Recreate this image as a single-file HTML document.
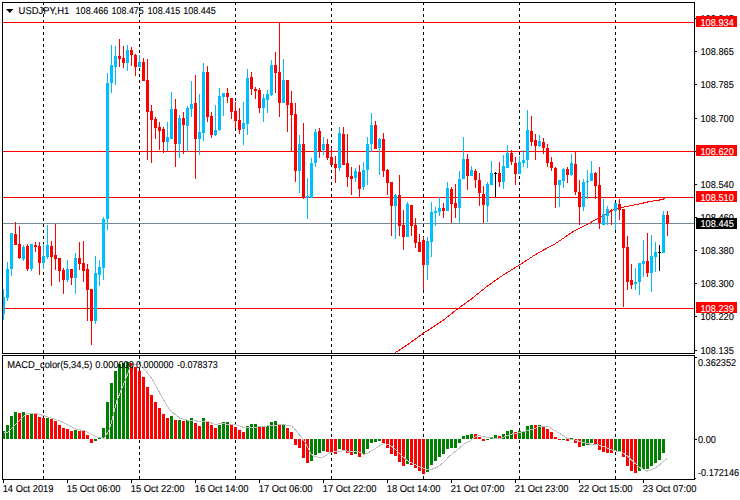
<!DOCTYPE html>
<html><head><meta charset="utf-8"><style>
html,body{margin:0;padding:0;background:#fff;width:740px;height:500px;overflow:hidden}
svg{display:block}
text{font-family:"Liberation Sans",sans-serif;font-size:10px;text-rendering:geometricPrecision;stroke:currentColor;stroke-width:0.12px}
</style></head><body>
<svg width="740" height="500" viewBox="0 0 740 500">
<defs>
<clipPath id="cm"><rect x="3" y="3" width="691" height="350"/></clipPath>
<clipPath id="cd"><rect x="3" y="356" width="691" height="123"/></clipPath>
</defs>
<rect width="740" height="500" fill="#fff"/>
<g shape-rendering="crispEdges">
<g fill="#000"><rect x="43" y="3" width="1" height="2"/><rect x="43" y="8" width="1" height="3"/><rect x="43" y="14" width="1" height="3"/><rect x="43" y="20" width="1" height="3"/><rect x="43" y="26" width="1" height="3"/><rect x="43" y="32" width="1" height="3"/><rect x="43" y="38" width="1" height="3"/><rect x="43" y="44" width="1" height="3"/><rect x="43" y="50" width="1" height="3"/><rect x="43" y="56" width="1" height="3"/><rect x="43" y="62" width="1" height="3"/><rect x="43" y="68" width="1" height="3"/><rect x="43" y="74" width="1" height="3"/><rect x="43" y="80" width="1" height="3"/><rect x="43" y="86" width="1" height="3"/><rect x="43" y="92" width="1" height="3"/><rect x="43" y="98" width="1" height="3"/><rect x="43" y="104" width="1" height="3"/><rect x="43" y="110" width="1" height="3"/><rect x="43" y="116" width="1" height="3"/><rect x="43" y="122" width="1" height="3"/><rect x="43" y="128" width="1" height="3"/><rect x="43" y="134" width="1" height="3"/><rect x="43" y="140" width="1" height="3"/><rect x="43" y="146" width="1" height="3"/><rect x="43" y="152" width="1" height="3"/><rect x="43" y="158" width="1" height="3"/><rect x="43" y="164" width="1" height="3"/><rect x="43" y="170" width="1" height="3"/><rect x="43" y="176" width="1" height="3"/><rect x="43" y="182" width="1" height="3"/><rect x="43" y="188" width="1" height="3"/><rect x="43" y="194" width="1" height="3"/><rect x="43" y="200" width="1" height="3"/><rect x="43" y="206" width="1" height="3"/><rect x="43" y="212" width="1" height="3"/><rect x="43" y="218" width="1" height="3"/><rect x="43" y="224" width="1" height="3"/><rect x="43" y="230" width="1" height="3"/><rect x="43" y="236" width="1" height="3"/><rect x="43" y="242" width="1" height="3"/><rect x="43" y="248" width="1" height="3"/><rect x="43" y="254" width="1" height="3"/><rect x="43" y="260" width="1" height="3"/><rect x="43" y="266" width="1" height="3"/><rect x="43" y="272" width="1" height="3"/><rect x="43" y="278" width="1" height="3"/><rect x="43" y="284" width="1" height="3"/><rect x="43" y="290" width="1" height="3"/><rect x="43" y="296" width="1" height="3"/><rect x="43" y="302" width="1" height="3"/><rect x="43" y="308" width="1" height="3"/><rect x="43" y="314" width="1" height="3"/><rect x="43" y="320" width="1" height="3"/><rect x="43" y="326" width="1" height="3"/><rect x="43" y="332" width="1" height="3"/><rect x="43" y="338" width="1" height="3"/><rect x="43" y="344" width="1" height="3"/><rect x="43" y="350" width="1" height="3"/><rect x="43" y="356" width="1" height="3"/><rect x="43" y="362" width="1" height="3"/><rect x="43" y="368" width="1" height="3"/><rect x="43" y="374" width="1" height="3"/><rect x="43" y="380" width="1" height="3"/><rect x="43" y="386" width="1" height="3"/><rect x="43" y="392" width="1" height="3"/><rect x="43" y="398" width="1" height="3"/><rect x="43" y="404" width="1" height="3"/><rect x="43" y="410" width="1" height="3"/><rect x="43" y="416" width="1" height="3"/><rect x="43" y="422" width="1" height="3"/><rect x="43" y="428" width="1" height="3"/><rect x="43" y="434" width="1" height="3"/><rect x="43" y="440" width="1" height="3"/><rect x="43" y="446" width="1" height="3"/><rect x="43" y="452" width="1" height="3"/><rect x="43" y="458" width="1" height="3"/><rect x="43" y="464" width="1" height="3"/><rect x="43" y="470" width="1" height="3"/><rect x="43" y="476" width="1" height="3"/><rect x="139" y="3" width="1" height="2"/><rect x="139" y="8" width="1" height="3"/><rect x="139" y="14" width="1" height="3"/><rect x="139" y="20" width="1" height="3"/><rect x="139" y="26" width="1" height="3"/><rect x="139" y="32" width="1" height="3"/><rect x="139" y="38" width="1" height="3"/><rect x="139" y="44" width="1" height="3"/><rect x="139" y="50" width="1" height="3"/><rect x="139" y="56" width="1" height="3"/><rect x="139" y="62" width="1" height="3"/><rect x="139" y="68" width="1" height="3"/><rect x="139" y="74" width="1" height="3"/><rect x="139" y="80" width="1" height="3"/><rect x="139" y="86" width="1" height="3"/><rect x="139" y="92" width="1" height="3"/><rect x="139" y="98" width="1" height="3"/><rect x="139" y="104" width="1" height="3"/><rect x="139" y="110" width="1" height="3"/><rect x="139" y="116" width="1" height="3"/><rect x="139" y="122" width="1" height="3"/><rect x="139" y="128" width="1" height="3"/><rect x="139" y="134" width="1" height="3"/><rect x="139" y="140" width="1" height="3"/><rect x="139" y="146" width="1" height="3"/><rect x="139" y="152" width="1" height="3"/><rect x="139" y="158" width="1" height="3"/><rect x="139" y="164" width="1" height="3"/><rect x="139" y="170" width="1" height="3"/><rect x="139" y="176" width="1" height="3"/><rect x="139" y="182" width="1" height="3"/><rect x="139" y="188" width="1" height="3"/><rect x="139" y="194" width="1" height="3"/><rect x="139" y="200" width="1" height="3"/><rect x="139" y="206" width="1" height="3"/><rect x="139" y="212" width="1" height="3"/><rect x="139" y="218" width="1" height="3"/><rect x="139" y="224" width="1" height="3"/><rect x="139" y="230" width="1" height="3"/><rect x="139" y="236" width="1" height="3"/><rect x="139" y="242" width="1" height="3"/><rect x="139" y="248" width="1" height="3"/><rect x="139" y="254" width="1" height="3"/><rect x="139" y="260" width="1" height="3"/><rect x="139" y="266" width="1" height="3"/><rect x="139" y="272" width="1" height="3"/><rect x="139" y="278" width="1" height="3"/><rect x="139" y="284" width="1" height="3"/><rect x="139" y="290" width="1" height="3"/><rect x="139" y="296" width="1" height="3"/><rect x="139" y="302" width="1" height="3"/><rect x="139" y="308" width="1" height="3"/><rect x="139" y="314" width="1" height="3"/><rect x="139" y="320" width="1" height="3"/><rect x="139" y="326" width="1" height="3"/><rect x="139" y="332" width="1" height="3"/><rect x="139" y="338" width="1" height="3"/><rect x="139" y="344" width="1" height="3"/><rect x="139" y="350" width="1" height="3"/><rect x="139" y="356" width="1" height="3"/><rect x="139" y="362" width="1" height="3"/><rect x="139" y="368" width="1" height="3"/><rect x="139" y="374" width="1" height="3"/><rect x="139" y="380" width="1" height="3"/><rect x="139" y="386" width="1" height="3"/><rect x="139" y="392" width="1" height="3"/><rect x="139" y="398" width="1" height="3"/><rect x="139" y="404" width="1" height="3"/><rect x="139" y="410" width="1" height="3"/><rect x="139" y="416" width="1" height="3"/><rect x="139" y="422" width="1" height="3"/><rect x="139" y="428" width="1" height="3"/><rect x="139" y="434" width="1" height="3"/><rect x="139" y="440" width="1" height="3"/><rect x="139" y="446" width="1" height="3"/><rect x="139" y="452" width="1" height="3"/><rect x="139" y="458" width="1" height="3"/><rect x="139" y="464" width="1" height="3"/><rect x="139" y="470" width="1" height="3"/><rect x="139" y="476" width="1" height="3"/><rect x="235" y="3" width="1" height="2"/><rect x="235" y="8" width="1" height="3"/><rect x="235" y="14" width="1" height="3"/><rect x="235" y="20" width="1" height="3"/><rect x="235" y="26" width="1" height="3"/><rect x="235" y="32" width="1" height="3"/><rect x="235" y="38" width="1" height="3"/><rect x="235" y="44" width="1" height="3"/><rect x="235" y="50" width="1" height="3"/><rect x="235" y="56" width="1" height="3"/><rect x="235" y="62" width="1" height="3"/><rect x="235" y="68" width="1" height="3"/><rect x="235" y="74" width="1" height="3"/><rect x="235" y="80" width="1" height="3"/><rect x="235" y="86" width="1" height="3"/><rect x="235" y="92" width="1" height="3"/><rect x="235" y="98" width="1" height="3"/><rect x="235" y="104" width="1" height="3"/><rect x="235" y="110" width="1" height="3"/><rect x="235" y="116" width="1" height="3"/><rect x="235" y="122" width="1" height="3"/><rect x="235" y="128" width="1" height="3"/><rect x="235" y="134" width="1" height="3"/><rect x="235" y="140" width="1" height="3"/><rect x="235" y="146" width="1" height="3"/><rect x="235" y="152" width="1" height="3"/><rect x="235" y="158" width="1" height="3"/><rect x="235" y="164" width="1" height="3"/><rect x="235" y="170" width="1" height="3"/><rect x="235" y="176" width="1" height="3"/><rect x="235" y="182" width="1" height="3"/><rect x="235" y="188" width="1" height="3"/><rect x="235" y="194" width="1" height="3"/><rect x="235" y="200" width="1" height="3"/><rect x="235" y="206" width="1" height="3"/><rect x="235" y="212" width="1" height="3"/><rect x="235" y="218" width="1" height="3"/><rect x="235" y="224" width="1" height="3"/><rect x="235" y="230" width="1" height="3"/><rect x="235" y="236" width="1" height="3"/><rect x="235" y="242" width="1" height="3"/><rect x="235" y="248" width="1" height="3"/><rect x="235" y="254" width="1" height="3"/><rect x="235" y="260" width="1" height="3"/><rect x="235" y="266" width="1" height="3"/><rect x="235" y="272" width="1" height="3"/><rect x="235" y="278" width="1" height="3"/><rect x="235" y="284" width="1" height="3"/><rect x="235" y="290" width="1" height="3"/><rect x="235" y="296" width="1" height="3"/><rect x="235" y="302" width="1" height="3"/><rect x="235" y="308" width="1" height="3"/><rect x="235" y="314" width="1" height="3"/><rect x="235" y="320" width="1" height="3"/><rect x="235" y="326" width="1" height="3"/><rect x="235" y="332" width="1" height="3"/><rect x="235" y="338" width="1" height="3"/><rect x="235" y="344" width="1" height="3"/><rect x="235" y="350" width="1" height="3"/><rect x="235" y="356" width="1" height="3"/><rect x="235" y="362" width="1" height="3"/><rect x="235" y="368" width="1" height="3"/><rect x="235" y="374" width="1" height="3"/><rect x="235" y="380" width="1" height="3"/><rect x="235" y="386" width="1" height="3"/><rect x="235" y="392" width="1" height="3"/><rect x="235" y="398" width="1" height="3"/><rect x="235" y="404" width="1" height="3"/><rect x="235" y="410" width="1" height="3"/><rect x="235" y="416" width="1" height="3"/><rect x="235" y="422" width="1" height="3"/><rect x="235" y="428" width="1" height="3"/><rect x="235" y="434" width="1" height="3"/><rect x="235" y="440" width="1" height="3"/><rect x="235" y="446" width="1" height="3"/><rect x="235" y="452" width="1" height="3"/><rect x="235" y="458" width="1" height="3"/><rect x="235" y="464" width="1" height="3"/><rect x="235" y="470" width="1" height="3"/><rect x="235" y="476" width="1" height="3"/><rect x="331" y="3" width="1" height="2"/><rect x="331" y="8" width="1" height="3"/><rect x="331" y="14" width="1" height="3"/><rect x="331" y="20" width="1" height="3"/><rect x="331" y="26" width="1" height="3"/><rect x="331" y="32" width="1" height="3"/><rect x="331" y="38" width="1" height="3"/><rect x="331" y="44" width="1" height="3"/><rect x="331" y="50" width="1" height="3"/><rect x="331" y="56" width="1" height="3"/><rect x="331" y="62" width="1" height="3"/><rect x="331" y="68" width="1" height="3"/><rect x="331" y="74" width="1" height="3"/><rect x="331" y="80" width="1" height="3"/><rect x="331" y="86" width="1" height="3"/><rect x="331" y="92" width="1" height="3"/><rect x="331" y="98" width="1" height="3"/><rect x="331" y="104" width="1" height="3"/><rect x="331" y="110" width="1" height="3"/><rect x="331" y="116" width="1" height="3"/><rect x="331" y="122" width="1" height="3"/><rect x="331" y="128" width="1" height="3"/><rect x="331" y="134" width="1" height="3"/><rect x="331" y="140" width="1" height="3"/><rect x="331" y="146" width="1" height="3"/><rect x="331" y="152" width="1" height="3"/><rect x="331" y="158" width="1" height="3"/><rect x="331" y="164" width="1" height="3"/><rect x="331" y="170" width="1" height="3"/><rect x="331" y="176" width="1" height="3"/><rect x="331" y="182" width="1" height="3"/><rect x="331" y="188" width="1" height="3"/><rect x="331" y="194" width="1" height="3"/><rect x="331" y="200" width="1" height="3"/><rect x="331" y="206" width="1" height="3"/><rect x="331" y="212" width="1" height="3"/><rect x="331" y="218" width="1" height="3"/><rect x="331" y="224" width="1" height="3"/><rect x="331" y="230" width="1" height="3"/><rect x="331" y="236" width="1" height="3"/><rect x="331" y="242" width="1" height="3"/><rect x="331" y="248" width="1" height="3"/><rect x="331" y="254" width="1" height="3"/><rect x="331" y="260" width="1" height="3"/><rect x="331" y="266" width="1" height="3"/><rect x="331" y="272" width="1" height="3"/><rect x="331" y="278" width="1" height="3"/><rect x="331" y="284" width="1" height="3"/><rect x="331" y="290" width="1" height="3"/><rect x="331" y="296" width="1" height="3"/><rect x="331" y="302" width="1" height="3"/><rect x="331" y="308" width="1" height="3"/><rect x="331" y="314" width="1" height="3"/><rect x="331" y="320" width="1" height="3"/><rect x="331" y="326" width="1" height="3"/><rect x="331" y="332" width="1" height="3"/><rect x="331" y="338" width="1" height="3"/><rect x="331" y="344" width="1" height="3"/><rect x="331" y="350" width="1" height="3"/><rect x="331" y="356" width="1" height="3"/><rect x="331" y="362" width="1" height="3"/><rect x="331" y="368" width="1" height="3"/><rect x="331" y="374" width="1" height="3"/><rect x="331" y="380" width="1" height="3"/><rect x="331" y="386" width="1" height="3"/><rect x="331" y="392" width="1" height="3"/><rect x="331" y="398" width="1" height="3"/><rect x="331" y="404" width="1" height="3"/><rect x="331" y="410" width="1" height="3"/><rect x="331" y="416" width="1" height="3"/><rect x="331" y="422" width="1" height="3"/><rect x="331" y="428" width="1" height="3"/><rect x="331" y="434" width="1" height="3"/><rect x="331" y="440" width="1" height="3"/><rect x="331" y="446" width="1" height="3"/><rect x="331" y="452" width="1" height="3"/><rect x="331" y="458" width="1" height="3"/><rect x="331" y="464" width="1" height="3"/><rect x="331" y="470" width="1" height="3"/><rect x="331" y="476" width="1" height="3"/><rect x="423" y="3" width="1" height="2"/><rect x="423" y="8" width="1" height="3"/><rect x="423" y="14" width="1" height="3"/><rect x="423" y="20" width="1" height="3"/><rect x="423" y="26" width="1" height="3"/><rect x="423" y="32" width="1" height="3"/><rect x="423" y="38" width="1" height="3"/><rect x="423" y="44" width="1" height="3"/><rect x="423" y="50" width="1" height="3"/><rect x="423" y="56" width="1" height="3"/><rect x="423" y="62" width="1" height="3"/><rect x="423" y="68" width="1" height="3"/><rect x="423" y="74" width="1" height="3"/><rect x="423" y="80" width="1" height="3"/><rect x="423" y="86" width="1" height="3"/><rect x="423" y="92" width="1" height="3"/><rect x="423" y="98" width="1" height="3"/><rect x="423" y="104" width="1" height="3"/><rect x="423" y="110" width="1" height="3"/><rect x="423" y="116" width="1" height="3"/><rect x="423" y="122" width="1" height="3"/><rect x="423" y="128" width="1" height="3"/><rect x="423" y="134" width="1" height="3"/><rect x="423" y="140" width="1" height="3"/><rect x="423" y="146" width="1" height="3"/><rect x="423" y="152" width="1" height="3"/><rect x="423" y="158" width="1" height="3"/><rect x="423" y="164" width="1" height="3"/><rect x="423" y="170" width="1" height="3"/><rect x="423" y="176" width="1" height="3"/><rect x="423" y="182" width="1" height="3"/><rect x="423" y="188" width="1" height="3"/><rect x="423" y="194" width="1" height="3"/><rect x="423" y="200" width="1" height="3"/><rect x="423" y="206" width="1" height="3"/><rect x="423" y="212" width="1" height="3"/><rect x="423" y="218" width="1" height="3"/><rect x="423" y="224" width="1" height="3"/><rect x="423" y="230" width="1" height="3"/><rect x="423" y="236" width="1" height="3"/><rect x="423" y="242" width="1" height="3"/><rect x="423" y="248" width="1" height="3"/><rect x="423" y="254" width="1" height="3"/><rect x="423" y="260" width="1" height="3"/><rect x="423" y="266" width="1" height="3"/><rect x="423" y="272" width="1" height="3"/><rect x="423" y="278" width="1" height="3"/><rect x="423" y="284" width="1" height="3"/><rect x="423" y="290" width="1" height="3"/><rect x="423" y="296" width="1" height="3"/><rect x="423" y="302" width="1" height="3"/><rect x="423" y="308" width="1" height="3"/><rect x="423" y="314" width="1" height="3"/><rect x="423" y="320" width="1" height="3"/><rect x="423" y="326" width="1" height="3"/><rect x="423" y="332" width="1" height="3"/><rect x="423" y="338" width="1" height="3"/><rect x="423" y="344" width="1" height="3"/><rect x="423" y="350" width="1" height="3"/><rect x="423" y="356" width="1" height="3"/><rect x="423" y="362" width="1" height="3"/><rect x="423" y="368" width="1" height="3"/><rect x="423" y="374" width="1" height="3"/><rect x="423" y="380" width="1" height="3"/><rect x="423" y="386" width="1" height="3"/><rect x="423" y="392" width="1" height="3"/><rect x="423" y="398" width="1" height="3"/><rect x="423" y="404" width="1" height="3"/><rect x="423" y="410" width="1" height="3"/><rect x="423" y="416" width="1" height="3"/><rect x="423" y="422" width="1" height="3"/><rect x="423" y="428" width="1" height="3"/><rect x="423" y="434" width="1" height="3"/><rect x="423" y="440" width="1" height="3"/><rect x="423" y="446" width="1" height="3"/><rect x="423" y="452" width="1" height="3"/><rect x="423" y="458" width="1" height="3"/><rect x="423" y="464" width="1" height="3"/><rect x="423" y="470" width="1" height="3"/><rect x="423" y="476" width="1" height="3"/><rect x="519" y="3" width="1" height="2"/><rect x="519" y="8" width="1" height="3"/><rect x="519" y="14" width="1" height="3"/><rect x="519" y="20" width="1" height="3"/><rect x="519" y="26" width="1" height="3"/><rect x="519" y="32" width="1" height="3"/><rect x="519" y="38" width="1" height="3"/><rect x="519" y="44" width="1" height="3"/><rect x="519" y="50" width="1" height="3"/><rect x="519" y="56" width="1" height="3"/><rect x="519" y="62" width="1" height="3"/><rect x="519" y="68" width="1" height="3"/><rect x="519" y="74" width="1" height="3"/><rect x="519" y="80" width="1" height="3"/><rect x="519" y="86" width="1" height="3"/><rect x="519" y="92" width="1" height="3"/><rect x="519" y="98" width="1" height="3"/><rect x="519" y="104" width="1" height="3"/><rect x="519" y="110" width="1" height="3"/><rect x="519" y="116" width="1" height="3"/><rect x="519" y="122" width="1" height="3"/><rect x="519" y="128" width="1" height="3"/><rect x="519" y="134" width="1" height="3"/><rect x="519" y="140" width="1" height="3"/><rect x="519" y="146" width="1" height="3"/><rect x="519" y="152" width="1" height="3"/><rect x="519" y="158" width="1" height="3"/><rect x="519" y="164" width="1" height="3"/><rect x="519" y="170" width="1" height="3"/><rect x="519" y="176" width="1" height="3"/><rect x="519" y="182" width="1" height="3"/><rect x="519" y="188" width="1" height="3"/><rect x="519" y="194" width="1" height="3"/><rect x="519" y="200" width="1" height="3"/><rect x="519" y="206" width="1" height="3"/><rect x="519" y="212" width="1" height="3"/><rect x="519" y="218" width="1" height="3"/><rect x="519" y="224" width="1" height="3"/><rect x="519" y="230" width="1" height="3"/><rect x="519" y="236" width="1" height="3"/><rect x="519" y="242" width="1" height="3"/><rect x="519" y="248" width="1" height="3"/><rect x="519" y="254" width="1" height="3"/><rect x="519" y="260" width="1" height="3"/><rect x="519" y="266" width="1" height="3"/><rect x="519" y="272" width="1" height="3"/><rect x="519" y="278" width="1" height="3"/><rect x="519" y="284" width="1" height="3"/><rect x="519" y="290" width="1" height="3"/><rect x="519" y="296" width="1" height="3"/><rect x="519" y="302" width="1" height="3"/><rect x="519" y="308" width="1" height="3"/><rect x="519" y="314" width="1" height="3"/><rect x="519" y="320" width="1" height="3"/><rect x="519" y="326" width="1" height="3"/><rect x="519" y="332" width="1" height="3"/><rect x="519" y="338" width="1" height="3"/><rect x="519" y="344" width="1" height="3"/><rect x="519" y="350" width="1" height="3"/><rect x="519" y="356" width="1" height="3"/><rect x="519" y="362" width="1" height="3"/><rect x="519" y="368" width="1" height="3"/><rect x="519" y="374" width="1" height="3"/><rect x="519" y="380" width="1" height="3"/><rect x="519" y="386" width="1" height="3"/><rect x="519" y="392" width="1" height="3"/><rect x="519" y="398" width="1" height="3"/><rect x="519" y="404" width="1" height="3"/><rect x="519" y="410" width="1" height="3"/><rect x="519" y="416" width="1" height="3"/><rect x="519" y="422" width="1" height="3"/><rect x="519" y="428" width="1" height="3"/><rect x="519" y="434" width="1" height="3"/><rect x="519" y="440" width="1" height="3"/><rect x="519" y="446" width="1" height="3"/><rect x="519" y="452" width="1" height="3"/><rect x="519" y="458" width="1" height="3"/><rect x="519" y="464" width="1" height="3"/><rect x="519" y="470" width="1" height="3"/><rect x="519" y="476" width="1" height="3"/><rect x="615" y="3" width="1" height="2"/><rect x="615" y="8" width="1" height="3"/><rect x="615" y="14" width="1" height="3"/><rect x="615" y="20" width="1" height="3"/><rect x="615" y="26" width="1" height="3"/><rect x="615" y="32" width="1" height="3"/><rect x="615" y="38" width="1" height="3"/><rect x="615" y="44" width="1" height="3"/><rect x="615" y="50" width="1" height="3"/><rect x="615" y="56" width="1" height="3"/><rect x="615" y="62" width="1" height="3"/><rect x="615" y="68" width="1" height="3"/><rect x="615" y="74" width="1" height="3"/><rect x="615" y="80" width="1" height="3"/><rect x="615" y="86" width="1" height="3"/><rect x="615" y="92" width="1" height="3"/><rect x="615" y="98" width="1" height="3"/><rect x="615" y="104" width="1" height="3"/><rect x="615" y="110" width="1" height="3"/><rect x="615" y="116" width="1" height="3"/><rect x="615" y="122" width="1" height="3"/><rect x="615" y="128" width="1" height="3"/><rect x="615" y="134" width="1" height="3"/><rect x="615" y="140" width="1" height="3"/><rect x="615" y="146" width="1" height="3"/><rect x="615" y="152" width="1" height="3"/><rect x="615" y="158" width="1" height="3"/><rect x="615" y="164" width="1" height="3"/><rect x="615" y="170" width="1" height="3"/><rect x="615" y="176" width="1" height="3"/><rect x="615" y="182" width="1" height="3"/><rect x="615" y="188" width="1" height="3"/><rect x="615" y="194" width="1" height="3"/><rect x="615" y="200" width="1" height="3"/><rect x="615" y="206" width="1" height="3"/><rect x="615" y="212" width="1" height="3"/><rect x="615" y="218" width="1" height="3"/><rect x="615" y="224" width="1" height="3"/><rect x="615" y="230" width="1" height="3"/><rect x="615" y="236" width="1" height="3"/><rect x="615" y="242" width="1" height="3"/><rect x="615" y="248" width="1" height="3"/><rect x="615" y="254" width="1" height="3"/><rect x="615" y="260" width="1" height="3"/><rect x="615" y="266" width="1" height="3"/><rect x="615" y="272" width="1" height="3"/><rect x="615" y="278" width="1" height="3"/><rect x="615" y="284" width="1" height="3"/><rect x="615" y="290" width="1" height="3"/><rect x="615" y="296" width="1" height="3"/><rect x="615" y="302" width="1" height="3"/><rect x="615" y="308" width="1" height="3"/><rect x="615" y="314" width="1" height="3"/><rect x="615" y="320" width="1" height="3"/><rect x="615" y="326" width="1" height="3"/><rect x="615" y="332" width="1" height="3"/><rect x="615" y="338" width="1" height="3"/><rect x="615" y="344" width="1" height="3"/><rect x="615" y="350" width="1" height="3"/><rect x="615" y="356" width="1" height="3"/><rect x="615" y="362" width="1" height="3"/><rect x="615" y="368" width="1" height="3"/><rect x="615" y="374" width="1" height="3"/><rect x="615" y="380" width="1" height="3"/><rect x="615" y="386" width="1" height="3"/><rect x="615" y="392" width="1" height="3"/><rect x="615" y="398" width="1" height="3"/><rect x="615" y="404" width="1" height="3"/><rect x="615" y="410" width="1" height="3"/><rect x="615" y="416" width="1" height="3"/><rect x="615" y="422" width="1" height="3"/><rect x="615" y="428" width="1" height="3"/><rect x="615" y="434" width="1" height="3"/><rect x="615" y="440" width="1" height="3"/><rect x="615" y="446" width="1" height="3"/><rect x="615" y="452" width="1" height="3"/><rect x="615" y="458" width="1" height="3"/><rect x="615" y="464" width="1" height="3"/><rect x="615" y="470" width="1" height="3"/><rect x="615" y="476" width="1" height="3"/></g>
<rect x="3" y="22" width="691" height="1" fill="#FF0000"/><rect x="3" y="151" width="691" height="1" fill="#FF0000"/><rect x="3" y="197" width="691" height="1" fill="#FF0000"/><rect x="3" y="308" width="691" height="1" fill="#FF0000"/><rect x="3" y="223" width="691" height="1" fill="#778899"/>
<g clip-path="url(#cm)"><polyline points="385.5,359.0 394.0,353.5 404.5,346.8 423.5,333.2 442.5,320.8 457.6,308.9 470.9,299.4 486.1,287.1 500.5,276.8 519.5,264.9 538.5,252.7 555.5,243.6 572.6,231.9 589.7,223.1 599.2,217.7 606.8,213.7 612.5,210.1 620.5,207.7 641.5,203.5 645.5,202.5 649.5,201.5 657.5,200.5 661.5,199.5 665.5,198.5" fill="none" stroke="#FF0000" stroke-width="1"/></g>
<rect x="3" y="289" width="1" height="31" fill="#00BFFF"/><rect x="2" y="297" width="3" height="17" fill="#00BFFF"/><rect x="7" y="262" width="1" height="39" fill="#00BFFF"/><rect x="6" y="269" width="3" height="29" fill="#00BFFF"/><rect x="11" y="233" width="1" height="43" fill="#00BFFF"/><rect x="10" y="233" width="3" height="36" fill="#00BFFF"/><rect x="15" y="222" width="1" height="23" fill="#FF0000"/><rect x="14" y="234" width="3" height="11" fill="#FF0000"/><rect x="19" y="226" width="1" height="33" fill="#FF0000"/><rect x="18" y="244" width="3" height="14" fill="#FF0000"/><rect x="23" y="245" width="1" height="16" fill="#00BFFF"/><rect x="22" y="247" width="3" height="12" fill="#00BFFF"/><rect x="27" y="244" width="1" height="27" fill="#FF0000"/><rect x="26" y="246" width="3" height="23" fill="#FF0000"/><rect x="31" y="244" width="1" height="27" fill="#00BFFF"/><rect x="30" y="244" width="3" height="25" fill="#00BFFF"/><rect x="35" y="242" width="1" height="10" fill="#FF0000"/><rect x="34" y="245" width="3" height="2" fill="#FF0000"/><rect x="39" y="242" width="1" height="33" fill="#FF0000"/><rect x="38" y="246" width="3" height="17" fill="#FF0000"/><rect x="43" y="244" width="1" height="25" fill="#00BFFF"/><rect x="42" y="256" width="3" height="7" fill="#00BFFF"/><rect x="47" y="225" width="1" height="34" fill="#00BFFF"/><rect x="46" y="245" width="3" height="12" fill="#00BFFF"/><rect x="51" y="241" width="1" height="45" fill="#FF0000"/><rect x="50" y="246" width="3" height="11" fill="#FF0000"/><rect x="55" y="224" width="1" height="46" fill="#FF0000"/><rect x="54" y="255" width="3" height="4" fill="#FF0000"/><rect x="59" y="258" width="1" height="24" fill="#FF0000"/><rect x="58" y="258" width="3" height="13" fill="#FF0000"/><rect x="63" y="268" width="1" height="26" fill="#FF0000"/><rect x="62" y="270" width="3" height="10" fill="#FF0000"/><rect x="67" y="260" width="1" height="22" fill="#00BFFF"/><rect x="66" y="269" width="3" height="11" fill="#00BFFF"/><rect x="71" y="269" width="1" height="16" fill="#FF0000"/><rect x="70" y="269" width="3" height="9" fill="#FF0000"/><rect x="75" y="253" width="1" height="41" fill="#00BFFF"/><rect x="74" y="258" width="3" height="20" fill="#00BFFF"/><rect x="79" y="242" width="1" height="28" fill="#FF0000"/><rect x="78" y="258" width="3" height="6" fill="#FF0000"/><rect x="83" y="241" width="1" height="41" fill="#FF0000"/><rect x="82" y="263" width="3" height="8" fill="#FF0000"/><rect x="87" y="264" width="1" height="57" fill="#FF0000"/><rect x="86" y="269" width="3" height="21" fill="#FF0000"/><rect x="91" y="289" width="1" height="56" fill="#FF0000"/><rect x="90" y="289" width="3" height="32" fill="#FF0000"/><rect x="95" y="256" width="1" height="68" fill="#00BFFF"/><rect x="94" y="273" width="3" height="48" fill="#00BFFF"/><rect x="99" y="260" width="1" height="26" fill="#00BFFF"/><rect x="98" y="267" width="3" height="8" fill="#00BFFF"/><rect x="103" y="217" width="1" height="63" fill="#00BFFF"/><rect x="102" y="219" width="3" height="49" fill="#00BFFF"/><rect x="107" y="73" width="1" height="157" fill="#00BFFF"/><rect x="106" y="83" width="3" height="136" fill="#00BFFF"/><rect x="111" y="45" width="1" height="48" fill="#00BFFF"/><rect x="110" y="65" width="3" height="18" fill="#00BFFF"/><rect x="115" y="46" width="1" height="39" fill="#00BFFF"/><rect x="114" y="56" width="3" height="11" fill="#00BFFF"/><rect x="119" y="39" width="1" height="28" fill="#FF0000"/><rect x="118" y="56" width="3" height="3" fill="#FF0000"/><rect x="123" y="46" width="1" height="22" fill="#FF0000"/><rect x="122" y="58" width="3" height="5" fill="#FF0000"/><rect x="127" y="45" width="1" height="26" fill="#00BFFF"/><rect x="126" y="50" width="3" height="13" fill="#00BFFF"/><rect x="131" y="47" width="1" height="19" fill="#FF0000"/><rect x="130" y="50" width="3" height="5" fill="#FF0000"/><rect x="135" y="54" width="1" height="22" fill="#FF0000"/><rect x="134" y="55" width="3" height="12" fill="#FF0000"/><rect x="139" y="55" width="1" height="12" fill="#00BFFF"/><rect x="138" y="62" width="3" height="5" fill="#00BFFF"/><rect x="143" y="58" width="1" height="23" fill="#FF0000"/><rect x="142" y="62" width="3" height="19" fill="#FF0000"/><rect x="147" y="59" width="1" height="101" fill="#FF0000"/><rect x="146" y="80" width="3" height="32" fill="#FF0000"/><rect x="151" y="105" width="1" height="58" fill="#FF0000"/><rect x="150" y="111" width="3" height="9" fill="#FF0000"/><rect x="155" y="117" width="1" height="22" fill="#FF0000"/><rect x="154" y="119" width="3" height="9" fill="#FF0000"/><rect x="159" y="122" width="1" height="28" fill="#FF0000"/><rect x="158" y="127" width="3" height="4" fill="#FF0000"/><rect x="163" y="127" width="1" height="26" fill="#FF0000"/><rect x="162" y="129" width="3" height="13" fill="#FF0000"/><rect x="167" y="122" width="1" height="29" fill="#00BFFF"/><rect x="166" y="137" width="3" height="5" fill="#00BFFF"/><rect x="171" y="92" width="1" height="47" fill="#00BFFF"/><rect x="170" y="109" width="3" height="30" fill="#00BFFF"/><rect x="175" y="99" width="1" height="68" fill="#FF0000"/><rect x="174" y="109" width="3" height="35" fill="#FF0000"/><rect x="179" y="115" width="1" height="43" fill="#00BFFF"/><rect x="178" y="118" width="3" height="26" fill="#00BFFF"/><rect x="183" y="112" width="1" height="42" fill="#FF0000"/><rect x="182" y="118" width="3" height="7" fill="#FF0000"/><rect x="187" y="106" width="1" height="46" fill="#00BFFF"/><rect x="186" y="108" width="3" height="18" fill="#00BFFF"/><rect x="191" y="81" width="1" height="36" fill="#00BFFF"/><rect x="190" y="104" width="3" height="5" fill="#00BFFF"/><rect x="195" y="75" width="1" height="104" fill="#FF0000"/><rect x="194" y="103" width="3" height="36" fill="#FF0000"/><rect x="199" y="94" width="1" height="61" fill="#00BFFF"/><rect x="198" y="132" width="3" height="7" fill="#00BFFF"/><rect x="203" y="63" width="1" height="78" fill="#00BFFF"/><rect x="202" y="72" width="3" height="61" fill="#00BFFF"/><rect x="207" y="66" width="1" height="56" fill="#FF0000"/><rect x="206" y="72" width="3" height="45" fill="#FF0000"/><rect x="211" y="112" width="1" height="26" fill="#FF0000"/><rect x="210" y="116" width="3" height="19" fill="#FF0000"/><rect x="215" y="105" width="1" height="31" fill="#00BFFF"/><rect x="214" y="130" width="3" height="5" fill="#00BFFF"/><rect x="219" y="88" width="1" height="43" fill="#00BFFF"/><rect x="218" y="96" width="3" height="34" fill="#00BFFF"/><rect x="223" y="93" width="1" height="23" fill="#00BFFF"/><rect x="222" y="93" width="3" height="4" fill="#00BFFF"/><rect x="227" y="88" width="1" height="15" fill="#FF0000"/><rect x="226" y="93" width="3" height="4" fill="#FF0000"/><rect x="231" y="98" width="1" height="21" fill="#FF0000"/><rect x="230" y="98" width="3" height="14" fill="#FF0000"/><rect x="235" y="102" width="1" height="26" fill="#FF0000"/><rect x="234" y="111" width="3" height="10" fill="#FF0000"/><rect x="239" y="108" width="1" height="26" fill="#FF0000"/><rect x="238" y="120" width="3" height="10" fill="#FF0000"/><rect x="243" y="102" width="1" height="43" fill="#00BFFF"/><rect x="242" y="123" width="3" height="6" fill="#00BFFF"/><rect x="247" y="69" width="1" height="66" fill="#00BFFF"/><rect x="246" y="78" width="3" height="46" fill="#00BFFF"/><rect x="251" y="72" width="1" height="23" fill="#FF0000"/><rect x="250" y="77" width="3" height="12" fill="#FF0000"/><rect x="255" y="87" width="1" height="12" fill="#FF0000"/><rect x="254" y="89" width="3" height="2" fill="#FF0000"/><rect x="259" y="88" width="1" height="25" fill="#FF0000"/><rect x="258" y="90" width="3" height="18" fill="#FF0000"/><rect x="263" y="94" width="1" height="28" fill="#00BFFF"/><rect x="262" y="98" width="3" height="10" fill="#00BFFF"/><rect x="267" y="90" width="1" height="23" fill="#00BFFF"/><rect x="266" y="94" width="3" height="6" fill="#00BFFF"/><rect x="271" y="60" width="1" height="36" fill="#00BFFF"/><rect x="270" y="65" width="3" height="30" fill="#00BFFF"/><rect x="275" y="52" width="1" height="41" fill="#FF0000"/><rect x="274" y="65" width="3" height="8" fill="#FF0000"/><rect x="279" y="22" width="1" height="95" fill="#FF0000"/><rect x="278" y="72" width="3" height="31" fill="#FF0000"/><rect x="283" y="59" width="1" height="44" fill="#00BFFF"/><rect x="282" y="80" width="3" height="23" fill="#00BFFF"/><rect x="287" y="80" width="1" height="52" fill="#FF0000"/><rect x="286" y="80" width="3" height="25" fill="#FF0000"/><rect x="291" y="91" width="1" height="60" fill="#FF0000"/><rect x="290" y="103" width="3" height="12" fill="#FF0000"/><rect x="295" y="103" width="1" height="79" fill="#FF0000"/><rect x="294" y="114" width="3" height="57" fill="#FF0000"/><rect x="299" y="135" width="1" height="58" fill="#00BFFF"/><rect x="298" y="144" width="3" height="27" fill="#00BFFF"/><rect x="303" y="123" width="1" height="76" fill="#FF0000"/><rect x="302" y="144" width="3" height="54" fill="#FF0000"/><rect x="307" y="178" width="1" height="41" fill="#00BFFF"/><rect x="306" y="196" width="3" height="2" fill="#00BFFF"/><rect x="311" y="158" width="1" height="40" fill="#00BFFF"/><rect x="310" y="163" width="3" height="35" fill="#00BFFF"/><rect x="315" y="129" width="1" height="38" fill="#00BFFF"/><rect x="314" y="132" width="3" height="31" fill="#00BFFF"/><rect x="319" y="128" width="1" height="30" fill="#FF0000"/><rect x="318" y="131" width="3" height="20" fill="#FF0000"/><rect x="323" y="137" width="1" height="18" fill="#00BFFF"/><rect x="322" y="144" width="3" height="6" fill="#00BFFF"/><rect x="327" y="139" width="1" height="21" fill="#FF0000"/><rect x="326" y="144" width="3" height="14" fill="#FF0000"/><rect x="331" y="148" width="1" height="17" fill="#FF0000"/><rect x="330" y="157" width="3" height="8" fill="#FF0000"/><rect x="335" y="156" width="1" height="27" fill="#FF0000"/><rect x="334" y="164" width="3" height="4" fill="#FF0000"/><rect x="339" y="127" width="1" height="44" fill="#00BFFF"/><rect x="338" y="133" width="3" height="35" fill="#00BFFF"/><rect x="343" y="127" width="1" height="38" fill="#FF0000"/><rect x="342" y="134" width="3" height="31" fill="#FF0000"/><rect x="347" y="134" width="1" height="53" fill="#FF0000"/><rect x="346" y="163" width="3" height="14" fill="#FF0000"/><rect x="351" y="167" width="1" height="28" fill="#FF0000"/><rect x="350" y="176" width="3" height="3" fill="#FF0000"/><rect x="355" y="168" width="1" height="14" fill="#00BFFF"/><rect x="354" y="171" width="3" height="7" fill="#00BFFF"/><rect x="359" y="165" width="1" height="32" fill="#FF0000"/><rect x="358" y="172" width="3" height="17" fill="#FF0000"/><rect x="363" y="162" width="1" height="28" fill="#00BFFF"/><rect x="362" y="170" width="3" height="17" fill="#00BFFF"/><rect x="367" y="137" width="1" height="48" fill="#00BFFF"/><rect x="366" y="144" width="3" height="26" fill="#00BFFF"/><rect x="371" y="113" width="1" height="39" fill="#00BFFF"/><rect x="370" y="125" width="3" height="19" fill="#00BFFF"/><rect x="375" y="121" width="1" height="28" fill="#FF0000"/><rect x="374" y="125" width="3" height="24" fill="#FF0000"/><rect x="379" y="138" width="1" height="37" fill="#00BFFF"/><rect x="378" y="139" width="3" height="9" fill="#00BFFF"/><rect x="383" y="133" width="1" height="44" fill="#FF0000"/><rect x="382" y="139" width="3" height="32" fill="#FF0000"/><rect x="387" y="169" width="1" height="26" fill="#FF0000"/><rect x="386" y="170" width="3" height="13" fill="#FF0000"/><rect x="391" y="182" width="1" height="54" fill="#FF0000"/><rect x="390" y="182" width="3" height="24" fill="#FF0000"/><rect x="395" y="194" width="1" height="45" fill="#00BFFF"/><rect x="394" y="195" width="3" height="11" fill="#00BFFF"/><rect x="399" y="175" width="1" height="61" fill="#FF0000"/><rect x="398" y="195" width="3" height="31" fill="#FF0000"/><rect x="403" y="210" width="1" height="40" fill="#FF0000"/><rect x="402" y="225" width="3" height="12" fill="#FF0000"/><rect x="407" y="202" width="1" height="35" fill="#00BFFF"/><rect x="406" y="204" width="3" height="33" fill="#00BFFF"/><rect x="411" y="205" width="1" height="31" fill="#FF0000"/><rect x="410" y="205" width="3" height="21" fill="#FF0000"/><rect x="415" y="218" width="1" height="30" fill="#FF0000"/><rect x="414" y="225" width="3" height="18" fill="#FF0000"/><rect x="419" y="234" width="1" height="18" fill="#FF0000"/><rect x="418" y="242" width="3" height="10" fill="#FF0000"/><rect x="423" y="237" width="1" height="53" fill="#FF0000"/><rect x="422" y="240" width="3" height="25" fill="#FF0000"/><rect x="427" y="237" width="1" height="43" fill="#00BFFF"/><rect x="426" y="241" width="3" height="24" fill="#00BFFF"/><rect x="431" y="202" width="1" height="55" fill="#00BFFF"/><rect x="430" y="212" width="3" height="30" fill="#00BFFF"/><rect x="435" y="207" width="1" height="19" fill="#00BFFF"/><rect x="434" y="211" width="3" height="2" fill="#00BFFF"/><rect x="439" y="197" width="1" height="19" fill="#00BFFF"/><rect x="438" y="208" width="3" height="4" fill="#00BFFF"/><rect x="443" y="203" width="1" height="15" fill="#FF0000"/><rect x="442" y="208" width="3" height="3" fill="#FF0000"/><rect x="447" y="182" width="1" height="29" fill="#00BFFF"/><rect x="446" y="188" width="3" height="23" fill="#00BFFF"/><rect x="451" y="187" width="1" height="36" fill="#FF0000"/><rect x="450" y="189" width="3" height="15" fill="#FF0000"/><rect x="455" y="184" width="1" height="34" fill="#FF0000"/><rect x="454" y="203" width="3" height="5" fill="#FF0000"/><rect x="459" y="171" width="1" height="52" fill="#00BFFF"/><rect x="458" y="179" width="3" height="29" fill="#00BFFF"/><rect x="463" y="137" width="1" height="42" fill="#00BFFF"/><rect x="462" y="159" width="3" height="20" fill="#00BFFF"/><rect x="467" y="154" width="1" height="36" fill="#FF0000"/><rect x="466" y="159" width="3" height="17" fill="#FF0000"/><rect x="471" y="166" width="1" height="10" fill="#00BFFF"/><rect x="470" y="170" width="3" height="6" fill="#00BFFF"/><rect x="475" y="169" width="1" height="19" fill="#FF0000"/><rect x="474" y="171" width="3" height="9" fill="#FF0000"/><rect x="479" y="173" width="1" height="33" fill="#FF0000"/><rect x="478" y="180" width="3" height="13" fill="#FF0000"/><rect x="483" y="186" width="1" height="37" fill="#FF0000"/><rect x="482" y="194" width="3" height="11" fill="#FF0000"/><rect x="487" y="182" width="1" height="40" fill="#00BFFF"/><rect x="486" y="184" width="3" height="22" fill="#00BFFF"/><rect x="491" y="161" width="1" height="24" fill="#00BFFF"/><rect x="490" y="173" width="3" height="12" fill="#00BFFF"/><rect x="495" y="172" width="1" height="25" fill="#000000"/><rect x="494" y="173" width="3" height="1" fill="#000000"/><rect x="499" y="162" width="1" height="25" fill="#FF0000"/><rect x="498" y="173" width="3" height="9" fill="#FF0000"/><rect x="503" y="155" width="1" height="34" fill="#00BFFF"/><rect x="502" y="166" width="3" height="16" fill="#00BFFF"/><rect x="507" y="145" width="1" height="23" fill="#00BFFF"/><rect x="506" y="153" width="3" height="15" fill="#00BFFF"/><rect x="511" y="150" width="1" height="15" fill="#FF0000"/><rect x="510" y="153" width="3" height="9" fill="#FF0000"/><rect x="515" y="157" width="1" height="28" fill="#FF0000"/><rect x="514" y="163" width="3" height="11" fill="#FF0000"/><rect x="519" y="156" width="1" height="18" fill="#00BFFF"/><rect x="518" y="162" width="3" height="12" fill="#00BFFF"/><rect x="523" y="150" width="1" height="17" fill="#00BFFF"/><rect x="522" y="160" width="3" height="3" fill="#00BFFF"/><rect x="527" y="110" width="1" height="58" fill="#00BFFF"/><rect x="526" y="130" width="3" height="30" fill="#00BFFF"/><rect x="531" y="116" width="1" height="30" fill="#FF0000"/><rect x="530" y="131" width="3" height="11" fill="#FF0000"/><rect x="535" y="134" width="1" height="26" fill="#FF0000"/><rect x="534" y="140" width="3" height="6" fill="#FF0000"/><rect x="539" y="135" width="1" height="12" fill="#00BFFF"/><rect x="538" y="141" width="3" height="5" fill="#00BFFF"/><rect x="543" y="138" width="1" height="16" fill="#FF0000"/><rect x="542" y="142" width="3" height="6" fill="#FF0000"/><rect x="547" y="144" width="1" height="23" fill="#FF0000"/><rect x="546" y="148" width="3" height="15" fill="#FF0000"/><rect x="551" y="157" width="1" height="14" fill="#FF0000"/><rect x="550" y="162" width="3" height="6" fill="#FF0000"/><rect x="555" y="167" width="1" height="41" fill="#FF0000"/><rect x="554" y="168" width="3" height="17" fill="#FF0000"/><rect x="559" y="180" width="1" height="27" fill="#00BFFF"/><rect x="558" y="180" width="3" height="5" fill="#00BFFF"/><rect x="563" y="168" width="1" height="20" fill="#00BFFF"/><rect x="562" y="169" width="3" height="12" fill="#00BFFF"/><rect x="567" y="167" width="1" height="16" fill="#FF0000"/><rect x="566" y="169" width="3" height="6" fill="#FF0000"/><rect x="571" y="154" width="1" height="22" fill="#00BFFF"/><rect x="570" y="163" width="3" height="12" fill="#00BFFF"/><rect x="575" y="151" width="1" height="44" fill="#FF0000"/><rect x="574" y="164" width="3" height="28" fill="#FF0000"/><rect x="579" y="180" width="1" height="45" fill="#FF0000"/><rect x="578" y="192" width="3" height="15" fill="#FF0000"/><rect x="583" y="179" width="1" height="32" fill="#00BFFF"/><rect x="582" y="182" width="3" height="25" fill="#00BFFF"/><rect x="587" y="170" width="1" height="29" fill="#00BFFF"/><rect x="586" y="181" width="3" height="1" fill="#00BFFF"/><rect x="591" y="161" width="1" height="20" fill="#00BFFF"/><rect x="590" y="173" width="3" height="8" fill="#00BFFF"/><rect x="595" y="172" width="1" height="27" fill="#FF0000"/><rect x="594" y="173" width="3" height="13" fill="#FF0000"/><rect x="599" y="167" width="1" height="62" fill="#FF0000"/><rect x="598" y="185" width="3" height="38" fill="#FF0000"/><rect x="603" y="199" width="1" height="26" fill="#00BFFF"/><rect x="602" y="214" width="3" height="11" fill="#00BFFF"/><rect x="607" y="206" width="1" height="19" fill="#00BFFF"/><rect x="606" y="209" width="3" height="7" fill="#00BFFF"/><rect x="611" y="209" width="1" height="16" fill="#FF0000"/><rect x="610" y="210" width="3" height="1" fill="#FF0000"/><rect x="615" y="203" width="1" height="27" fill="#00BFFF"/><rect x="614" y="203" width="3" height="8" fill="#00BFFF"/><rect x="619" y="199" width="1" height="21" fill="#FF0000"/><rect x="618" y="204" width="3" height="6" fill="#FF0000"/><rect x="623" y="209" width="1" height="98" fill="#FF0000"/><rect x="622" y="209" width="3" height="39" fill="#FF0000"/><rect x="627" y="236" width="1" height="54" fill="#FF0000"/><rect x="626" y="247" width="3" height="35" fill="#FF0000"/><rect x="631" y="264" width="1" height="25" fill="#FF0000"/><rect x="630" y="280" width="3" height="5" fill="#FF0000"/><rect x="635" y="268" width="1" height="22" fill="#00BFFF"/><rect x="634" y="282" width="3" height="2" fill="#00BFFF"/><rect x="639" y="263" width="1" height="32" fill="#00BFFF"/><rect x="638" y="263" width="3" height="19" fill="#00BFFF"/><rect x="643" y="240" width="1" height="37" fill="#00BFFF"/><rect x="642" y="261" width="3" height="3" fill="#00BFFF"/><rect x="647" y="233" width="1" height="44" fill="#FF0000"/><rect x="646" y="261" width="3" height="12" fill="#FF0000"/><rect x="651" y="235" width="1" height="57" fill="#00BFFF"/><rect x="650" y="256" width="3" height="17" fill="#00BFFF"/><rect x="655" y="242" width="1" height="30" fill="#00BFFF"/><rect x="654" y="252" width="3" height="5" fill="#00BFFF"/><rect x="659" y="245" width="1" height="26" fill="#000000"/><rect x="658" y="252" width="3" height="1" fill="#000000"/><rect x="663" y="211" width="1" height="42" fill="#00BFFF"/><rect x="662" y="215" width="3" height="38" fill="#00BFFF"/><rect x="667" y="211" width="1" height="25" fill="#FF0000"/><rect x="666" y="215" width="3" height="9" fill="#FF0000"/>
<rect x="2" y="431" width="3" height="8" fill="#008000"/><rect x="6" y="425" width="3" height="14" fill="#008000"/><rect x="10" y="416" width="3" height="23" fill="#008000"/><rect x="14" y="412" width="3" height="27" fill="#008000"/><rect x="18" y="413" width="3" height="26" fill="#FF0000"/><rect x="22" y="412" width="3" height="27" fill="#008000"/><rect x="26" y="415" width="3" height="24" fill="#FF0000"/><rect x="30" y="414" width="3" height="25" fill="#008000"/><rect x="34" y="414" width="3" height="25" fill="#FF0000"/><rect x="38" y="417" width="3" height="22" fill="#FF0000"/><rect x="42" y="418" width="3" height="21" fill="#FF0000"/><rect x="46" y="418" width="3" height="21" fill="#008000"/><rect x="50" y="419" width="3" height="20" fill="#FF0000"/><rect x="54" y="421" width="3" height="18" fill="#FF0000"/><rect x="58" y="425" width="3" height="14" fill="#FF0000"/><rect x="62" y="428" width="3" height="11" fill="#FF0000"/><rect x="66" y="429" width="3" height="10" fill="#FF0000"/><rect x="70" y="431" width="3" height="8" fill="#FF0000"/><rect x="74" y="430" width="3" height="9" fill="#008000"/><rect x="78" y="431" width="3" height="8" fill="#FF0000"/><rect x="82" y="431" width="3" height="8" fill="#FF0000"/><rect x="86" y="435" width="3" height="4" fill="#FF0000"/><rect x="90" y="439" width="3" height="4" fill="#FF0000"/><rect x="94" y="439" width="3" height="2" fill="#008000"/><rect x="98" y="438" width="3" height="1" fill="#008000"/><rect x="102" y="428" width="3" height="11" fill="#008000"/><rect x="106" y="402" width="3" height="37" fill="#008000"/><rect x="110" y="383" width="3" height="56" fill="#008000"/><rect x="114" y="371" width="3" height="68" fill="#008000"/><rect x="118" y="364" width="3" height="75" fill="#008000"/><rect x="122" y="363" width="3" height="76" fill="#008000"/><rect x="126" y="362" width="3" height="77" fill="#008000"/><rect x="130" y="363" width="3" height="76" fill="#FF0000"/><rect x="134" y="367" width="3" height="72" fill="#FF0000"/><rect x="138" y="371" width="3" height="68" fill="#FF0000"/><rect x="142" y="377" width="3" height="62" fill="#FF0000"/><rect x="146" y="387" width="3" height="52" fill="#FF0000"/><rect x="150" y="395" width="3" height="44" fill="#FF0000"/><rect x="154" y="402" width="3" height="37" fill="#FF0000"/><rect x="158" y="408" width="3" height="31" fill="#FF0000"/><rect x="162" y="414" width="3" height="25" fill="#FF0000"/><rect x="166" y="418" width="3" height="21" fill="#FF0000"/><rect x="170" y="416" width="3" height="23" fill="#008000"/><rect x="174" y="420" width="3" height="19" fill="#FF0000"/><rect x="178" y="420" width="3" height="19" fill="#008000"/><rect x="182" y="421" width="3" height="18" fill="#FF0000"/><rect x="186" y="420" width="3" height="19" fill="#008000"/><rect x="190" y="418" width="3" height="21" fill="#008000"/><rect x="194" y="423" width="3" height="16" fill="#FF0000"/><rect x="198" y="426" width="3" height="13" fill="#FF0000"/><rect x="202" y="418" width="3" height="21" fill="#008000"/><rect x="206" y="422" width="3" height="17" fill="#FF0000"/><rect x="210" y="425" width="3" height="14" fill="#FF0000"/><rect x="214" y="428" width="3" height="11" fill="#FF0000"/><rect x="218" y="425" width="3" height="14" fill="#008000"/><rect x="222" y="422" width="3" height="17" fill="#008000"/><rect x="226" y="422" width="3" height="17" fill="#008000"/><rect x="230" y="425" width="3" height="14" fill="#FF0000"/><rect x="234" y="427" width="3" height="12" fill="#FF0000"/><rect x="238" y="430" width="3" height="9" fill="#FF0000"/><rect x="242" y="432" width="3" height="7" fill="#FF0000"/><rect x="246" y="426" width="3" height="13" fill="#008000"/><rect x="250" y="424" width="3" height="15" fill="#008000"/><rect x="254" y="424" width="3" height="15" fill="#008000"/><rect x="258" y="427" width="3" height="12" fill="#FF0000"/><rect x="262" y="427" width="3" height="12" fill="#FF0000"/><rect x="266" y="426" width="3" height="13" fill="#008000"/><rect x="270" y="422" width="3" height="17" fill="#008000"/><rect x="274" y="421" width="3" height="18" fill="#008000"/><rect x="278" y="425" width="3" height="14" fill="#FF0000"/><rect x="282" y="425" width="3" height="14" fill="#008000"/><rect x="286" y="428" width="3" height="11" fill="#FF0000"/><rect x="290" y="432" width="3" height="7" fill="#FF0000"/><rect x="294" y="439" width="3" height="6" fill="#FF0000"/><rect x="298" y="439" width="3" height="9" fill="#FF0000"/><rect x="302" y="439" width="3" height="19" fill="#FF0000"/><rect x="306" y="439" width="3" height="24" fill="#FF0000"/><rect x="310" y="439" width="3" height="22" fill="#008000"/><rect x="314" y="439" width="3" height="16" fill="#008000"/><rect x="318" y="439" width="3" height="14" fill="#008000"/><rect x="322" y="439" width="3" height="12" fill="#008000"/><rect x="326" y="439" width="3" height="13" fill="#FF0000"/><rect x="330" y="439" width="3" height="13" fill="#FF0000"/><rect x="334" y="439" width="3" height="15" fill="#FF0000"/><rect x="338" y="439" width="3" height="10" fill="#008000"/><rect x="342" y="439" width="3" height="11" fill="#FF0000"/><rect x="346" y="439" width="3" height="14" fill="#FF0000"/><rect x="350" y="439" width="3" height="16" fill="#FF0000"/><rect x="354" y="439" width="3" height="15" fill="#008000"/><rect x="358" y="439" width="3" height="18" fill="#FF0000"/><rect x="362" y="439" width="3" height="15" fill="#008000"/><rect x="366" y="439" width="3" height="10" fill="#008000"/><rect x="370" y="439" width="3" height="4" fill="#008000"/><rect x="374" y="439" width="3" height="3" fill="#008000"/><rect x="378" y="439" width="3" height="2" fill="#008000"/><rect x="382" y="439" width="3" height="4" fill="#FF0000"/><rect x="386" y="439" width="3" height="9" fill="#FF0000"/><rect x="390" y="439" width="3" height="15" fill="#FF0000"/><rect x="394" y="439" width="3" height="17" fill="#FF0000"/><rect x="398" y="439" width="3" height="23" fill="#FF0000"/><rect x="402" y="439" width="3" height="27" fill="#FF0000"/><rect x="406" y="439" width="3" height="25" fill="#008000"/><rect x="410" y="439" width="3" height="26" fill="#FF0000"/><rect x="414" y="439" width="3" height="29" fill="#FF0000"/><rect x="418" y="439" width="3" height="32" fill="#FF0000"/><rect x="422" y="439" width="3" height="35" fill="#FF0000"/><rect x="426" y="439" width="3" height="33" fill="#008000"/><rect x="430" y="439" width="3" height="26" fill="#008000"/><rect x="434" y="439" width="3" height="22" fill="#008000"/><rect x="438" y="439" width="3" height="18" fill="#008000"/><rect x="442" y="439" width="3" height="15" fill="#008000"/><rect x="446" y="439" width="3" height="10" fill="#008000"/><rect x="450" y="439" width="3" height="9" fill="#008000"/><rect x="454" y="439" width="3" height="9" fill="#008000"/><rect x="458" y="439" width="3" height="4" fill="#008000"/><rect x="462" y="436" width="3" height="3" fill="#008000"/><rect x="466" y="435" width="3" height="4" fill="#008000"/><rect x="470" y="434" width="3" height="5" fill="#008000"/><rect x="474" y="434" width="3" height="5" fill="#FF0000"/><rect x="478" y="437" width="3" height="2" fill="#FF0000"/><rect x="482" y="439" width="3" height="2" fill="#FF0000"/><rect x="486" y="439" width="3" height="1" fill="#008000"/><rect x="490" y="437" width="3" height="2" fill="#008000"/><rect x="494" y="435" width="3" height="4" fill="#008000"/><rect x="498" y="436" width="3" height="3" fill="#FF0000"/><rect x="502" y="434" width="3" height="5" fill="#008000"/><rect x="506" y="431" width="3" height="8" fill="#008000"/><rect x="510" y="430" width="3" height="9" fill="#008000"/><rect x="514" y="432" width="3" height="7" fill="#FF0000"/><rect x="518" y="431" width="3" height="8" fill="#008000"/><rect x="522" y="432" width="3" height="7" fill="#008000"/><rect x="526" y="426" width="3" height="13" fill="#008000"/><rect x="530" y="425" width="3" height="14" fill="#008000"/><rect x="534" y="425" width="3" height="14" fill="#FF0000"/><rect x="538" y="425" width="3" height="14" fill="#008000"/><rect x="542" y="427" width="3" height="12" fill="#FF0000"/><rect x="546" y="429" width="3" height="10" fill="#FF0000"/><rect x="550" y="432" width="3" height="7" fill="#FF0000"/><rect x="554" y="437" width="3" height="2" fill="#FF0000"/><rect x="558" y="439" width="3" height="1" fill="#FF0000"/><rect x="562" y="439" width="3" height="1" fill="#008000"/><rect x="566" y="439" width="3" height="2" fill="#FF0000"/><rect x="570" y="438" width="3" height="1" fill="#008000"/><rect x="574" y="439" width="3" height="4" fill="#FF0000"/><rect x="578" y="439" width="3" height="8" fill="#FF0000"/><rect x="582" y="439" width="3" height="7" fill="#008000"/><rect x="586" y="439" width="3" height="6" fill="#008000"/><rect x="590" y="439" width="3" height="4" fill="#008000"/><rect x="594" y="439" width="3" height="5" fill="#FF0000"/><rect x="598" y="439" width="3" height="11" fill="#FF0000"/><rect x="602" y="439" width="3" height="13" fill="#FF0000"/><rect x="606" y="439" width="3" height="14" fill="#FF0000"/><rect x="610" y="439" width="3" height="14" fill="#FF0000"/><rect x="614" y="439" width="3" height="12" fill="#008000"/><rect x="618" y="439" width="3" height="12" fill="#008000"/><rect x="622" y="439" width="3" height="18" fill="#FF0000"/><rect x="626" y="439" width="3" height="27" fill="#FF0000"/><rect x="630" y="439" width="3" height="32" fill="#FF0000"/><rect x="634" y="439" width="3" height="34" fill="#FF0000"/><rect x="638" y="439" width="3" height="32" fill="#008000"/><rect x="642" y="439" width="3" height="30" fill="#008000"/><rect x="646" y="439" width="3" height="30" fill="#008000"/><rect x="650" y="439" width="3" height="27" fill="#008000"/><rect x="654" y="439" width="3" height="24" fill="#008000"/><rect x="658" y="439" width="3" height="21" fill="#008000"/><rect x="662" y="439" width="3" height="14" fill="#008000"/>
<g clip-path="url(#cd)"><polyline points="3.5,432.7 7.5,432.7 26.1,413.9 37.5,413.9 44.1,415.7 61.5,421.5 75.5,428.9 85.5,431.1 97.5,437.1 104.1,438.3 109.5,429.3 114.3,411.3 116.5,401.7 123.9,383.5 129.9,368.1 133.5,364.5 140.5,364.5 145.5,370.5 152.5,379.5 161.1,395.5 169.5,409.9 180.3,418.5 187.5,420.1 199.5,421.3 209.0,421.9 215.0,424.5 219.5,423.7 235.5,424.5 245.1,427.9 259.5,426.9 271.5,425.5 283.5,424.5 291.5,426.1 294.3,428.5 301.5,437.5 306.3,444.1 311.1,454.3 314.5,456.1 319.5,457.9 324.3,456.7 330.3,452.5 339.9,451.3 344.5,450.7 351.5,451.5 359.0,451.9 363.5,454.3 367.5,453.3 373.5,449.7 379.5,446.1 383.5,443.7 389.1,444.3 395.1,449.1 401.1,455.1 407.1,460.5 413.1,463.5 419.1,466.5 425.1,468.9 431.0,469.5 435.5,468.0 439.5,465.9 445.5,460.5 449.1,456.3 457.5,449.7 464.5,443.7 470.5,440.7 474.3,437.1 479.1,435.6 486.3,437.1 493.5,438.3 500.5,438.5 505.5,436.2 511.5,434.1 519.9,432.6 529.5,429.9 535.5,428.3 539.1,426.3 548.5,426.9 555.9,431.1 567.9,438.9 572.5,439.1 577.5,440.7 583.5,442.5 590.7,444.3 597.9,444.5 606.3,447.6 613.5,450.5 621.9,452.1 627.9,456.3 633.9,462.3 639.9,467.7 641.5,468.5 647.5,471.0 652.5,469.5 659.5,465.0 667.0,458.5" fill="none" stroke="#C0C0C0" stroke-width="1"/></g>
<g fill="#000"><rect x="2" y="2" width="693" height="1"/><rect x="2" y="353" width="693" height="1"/><rect x="2" y="2" width="1" height="352"/><rect x="694" y="2" width="1" height="352"/><rect x="2" y="355" width="693" height="1"/><rect x="2" y="479" width="693" height="1"/><rect x="2" y="355" width="1" height="125"/><rect x="694" y="355" width="1" height="125"/></g>
</g>
<g fill="#000" shape-rendering="crispEdges"><rect x="695" y="18" width="2" height="1"/><text x="700.50" y="22" textLength="33.30" lengthAdjust="spacingAndGlyphs">108.945</text><rect x="695" y="51" width="2" height="1"/><text x="700.50" y="55" textLength="33.30" lengthAdjust="spacingAndGlyphs">108.865</text><rect x="695" y="84" width="2" height="1"/><text x="700.50" y="88" textLength="33.30" lengthAdjust="spacingAndGlyphs">108.785</text><rect x="695" y="118" width="2" height="1"/><text x="700.50" y="122" textLength="33.30" lengthAdjust="spacingAndGlyphs">108.700</text><rect x="695" y="151" width="2" height="1"/><text x="700.50" y="155" textLength="33.30" lengthAdjust="spacingAndGlyphs">108.620</text><rect x="695" y="184" width="2" height="1"/><text x="700.50" y="188" textLength="33.30" lengthAdjust="spacingAndGlyphs">108.540</text><rect x="695" y="217" width="2" height="1"/><text x="700.50" y="221" textLength="33.30" lengthAdjust="spacingAndGlyphs">108.460</text><rect x="695" y="250" width="2" height="1"/><text x="700.50" y="254" textLength="33.30" lengthAdjust="spacingAndGlyphs">108.380</text><rect x="695" y="283" width="2" height="1"/><text x="700.50" y="287" textLength="33.30" lengthAdjust="spacingAndGlyphs">108.300</text><rect x="695" y="350" width="2" height="1"/><text x="700.50" y="354" textLength="33.30" lengthAdjust="spacingAndGlyphs">108.135</text></g>
<g shape-rendering="crispEdges"><rect x="696" y="16" width="41" height="11" fill="#FF0000"/><text x="700.50" y="26" textLength="33.30" lengthAdjust="spacingAndGlyphs" fill="#fff" color="#fff">108.934</text><rect x="696" y="145" width="41" height="11" fill="#FF0000"/><text x="700.50" y="155" textLength="33.30" lengthAdjust="spacingAndGlyphs" fill="#fff" color="#fff">108.620</text><rect x="696" y="191" width="41" height="11" fill="#FF0000"/><text x="700.50" y="201" textLength="33.30" lengthAdjust="spacingAndGlyphs" fill="#fff" color="#fff">108.510</text><rect x="696" y="302" width="41" height="11" fill="#FF0000"/><text x="700.50" y="312" textLength="33.30" lengthAdjust="spacingAndGlyphs" fill="#fff" color="#fff">108.239</text><rect x="696" y="218" width="41" height="11" fill="#000"/><text x="700.50" y="227" textLength="33.30" lengthAdjust="spacingAndGlyphs" fill="#fff" color="#fff">108.445</text></g>
<g fill="#000"><rect x="695" y="316" width="2" height="1"/><text x="700.50" y="320" textLength="33.30" lengthAdjust="spacingAndGlyphs">108.220</text><rect x="695" y="357" width="2" height="1"/><text x="698.00" y="366" textLength="38.10" lengthAdjust="spacingAndGlyphs">0.362352</text><rect x="695" y="439" width="2" height="1"/><text x="698.00" y="443" textLength="17.80" lengthAdjust="spacingAndGlyphs">0.00</text><rect x="695" y="478" width="1" height="1"/><text x="698.00" y="476" textLength="41.10" lengthAdjust="spacingAndGlyphs">-0.172146</text><rect x="3" y="480" width="1" height="3"/><text x="2.70" y="492" textLength="50.80" lengthAdjust="spacingAndGlyphs">14 Oct 2019</text><rect x="67" y="480" width="1" height="3"/><text x="66.70" y="492" textLength="53.90" lengthAdjust="spacingAndGlyphs">15 Oct 06:00</text><rect x="131" y="480" width="1" height="3"/><text x="130.70" y="492" textLength="53.90" lengthAdjust="spacingAndGlyphs">15 Oct 22:00</text><rect x="195" y="480" width="1" height="3"/><text x="194.70" y="492" textLength="53.90" lengthAdjust="spacingAndGlyphs">16 Oct 14:00</text><rect x="259" y="480" width="1" height="3"/><text x="258.70" y="492" textLength="53.90" lengthAdjust="spacingAndGlyphs">17 Oct 06:00</text><rect x="323" y="480" width="1" height="3"/><text x="322.70" y="492" textLength="53.90" lengthAdjust="spacingAndGlyphs">17 Oct 22:00</text><rect x="387" y="480" width="1" height="3"/><text x="386.70" y="492" textLength="53.90" lengthAdjust="spacingAndGlyphs">18 Oct 14:00</text><rect x="451" y="480" width="1" height="3"/><text x="450.70" y="492" textLength="53.90" lengthAdjust="spacingAndGlyphs">21 Oct 07:00</text><rect x="515" y="480" width="1" height="3"/><text x="514.70" y="492" textLength="53.90" lengthAdjust="spacingAndGlyphs">21 Oct 23:00</text><rect x="579" y="480" width="1" height="3"/><text x="578.70" y="492" textLength="53.90" lengthAdjust="spacingAndGlyphs">22 Oct 15:00</text><rect x="643" y="480" width="1" height="3"/><text x="642.70" y="492" textLength="53.90" lengthAdjust="spacingAndGlyphs">23 Oct 07:00</text><polygon points="6,9 13.5,9 9.75,13" fill="#000"/><text x="18.60" y="14" textLength="50.70" lengthAdjust="spacingAndGlyphs">USDJPY,H1</text><text x="75.60" y="14" textLength="32.70" lengthAdjust="spacingAndGlyphs">108.466</text><text x="111.50" y="14" textLength="32.30" lengthAdjust="spacingAndGlyphs">108.475</text><text x="147.60" y="14" textLength="32.70" lengthAdjust="spacingAndGlyphs">108.415</text><text x="183.20" y="14" textLength="32.70" lengthAdjust="spacingAndGlyphs">108.445</text><text x="7.30" y="368" textLength="85.10" lengthAdjust="spacingAndGlyphs">MACD_color(5,34,5)</text><text x="95.30" y="368" textLength="38.50" lengthAdjust="spacingAndGlyphs">0.000000</text><text x="136.00" y="368" textLength="37.40" lengthAdjust="spacingAndGlyphs">0.000000</text><text x="177.00" y="368" textLength="40.70" lengthAdjust="spacingAndGlyphs">-0.078373</text></g>
</svg>
</body></html>
